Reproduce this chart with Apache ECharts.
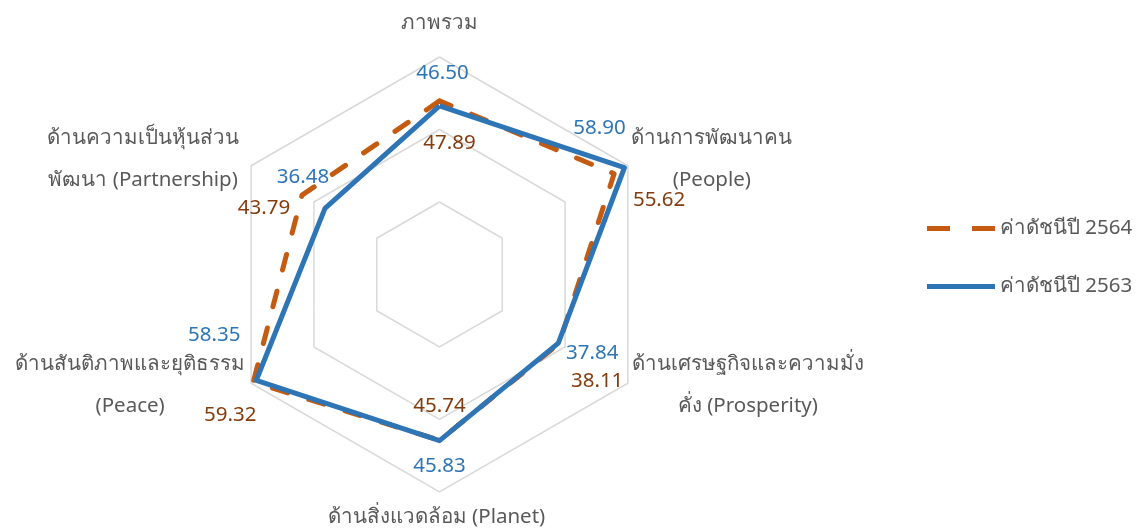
<!DOCTYPE html>
<html>
<head>
<meta charset="utf-8">
<script src="https://cdn.jsdelivr.net/npm/echarts@6/dist/echarts.min.js"></script>
<style>
html,body{margin:0;padding:0;background:#fff;}
#main{width:1145px;height:531px;}
</style>
</head>
<body>
<div id="main"></div>
<script>
// Categories, clockwise from the top
const categories = [
  'ภาพรวม',
  'ด้านการพัฒนาคน\n(People)',
  'ด้านเศรษฐกิจและความมั่ง\nคั่ง (Prosperity)',
  'ด้านสิ่งแวดล้อม (Planet)',
  'ด้านสันติภาพและยุติธรรม\n(Peace)',
  'ด้านความเป็นหุ้นส่วน\nพัฒนา (Partnership)'
];
const seriesNames = ['ค่าดัชนีปี 2564', 'ค่าดัชนีปี 2563'];
const values2564 = [47.89, 55.62, 38.11, 45.74, 59.32, 43.79];
const values2563 = [46.50, 58.90, 37.84, 45.83, 58.35, 36.48];
const axisMax = 60;

// label placement (layout only)
const nameOffsets = [[0, -34], [84, -7], [120, 2], [-3, 25], [-121, 2], [-108, -7]];
const off2564 = [[10, 42], [45, 26], [38, 38], [0, -34], [-23, 33], [-38, 13]];
const off2563 = [[3, -33], [-25, -40], [34, 10], [0, 26], [-42, -45], [-22, -31]];

const C_BLUE = '#2e75b6', C_ORANGE = '#c55a11', C_LBL_OR = '#843c0c', C_TXT = '#595959';
const FONT = '"Noto Sans", "Open Sans", sans-serif';
const CENTER = [439.5, 274.5], RADIUS = 217.5;

// radar goes counter-clockwise: reorder clockwise arrays
const ccw = arr => [arr[0], arr[5], arr[4], arr[3], arr[2], arr[1]];

function labelSeries(vals, offs, color, name) {
  return {
    type: 'scatter', coordinateSystem: 'polar', name: name,
    symbolSize: 1, itemStyle: {color: 'rgba(0,0,0,0)', opacity: 1}, silent: true,
    legendHoverLink: false, z: 10,
    label: {show: true, position: 'inside', color: color, fontSize: 20.5, fontFamily: FONT, opacity: 1,
            formatter: p => p.value[0].toFixed(2)},
    data: vals.map((v, i) => ({value: [v, i], label: {offset: offs[i]}}))
  };
}

const chart = echarts.init(document.getElementById('main'));
chart.setOption({
  animation: false,
  backgroundColor: '#fff',
  legend: {
    orient: 'vertical', left: 922, top: 213,
    itemWidth: 68, itemHeight: 5, itemGap: 37,
    textStyle: {color: C_TXT, fontSize: 20.5, fontFamily: FONT},
    data: [
      {name: seriesNames[0], icon: 'path://M0,0H23V5H0Z M45,0H68V5H45Z', itemStyle: {color: C_ORANGE}},
      {name: seriesNames[1], icon: 'path://M0,0H68V5H0Z', itemStyle: {color: C_BLUE}}
    ]
  },
  radar: {
    center: CENTER, radius: RADIUS, shape: 'polygon', splitNumber: 3,
    startAngle: 90,
    indicator: ccw(categories).map(n => ({name: n, min: 0, max: axisMax})),
    axisName: {show: false},
    axisLine: {show: false}, axisTick: {show: false}, axisLabel: {show: false},
    splitArea: {show: false},
    splitLine: {lineStyle: {color: '#d9d9d9', width: 1.5}}
  },
  polar: {center: CENTER, radius: RADIUS},
  angleAxis: {type: 'category', data: categories, boundaryGap: false, startAngle: 90, clockwise: true,
              axisLine: {show: false}, axisTick: {show: false}, axisLabel: {show: false}, splitLine: {show: false}},
  radiusAxis: {type: 'value', min: 0, max: axisMax, axisLine: {show: false}, axisTick: {show: false},
               axisLabel: {show: false}, splitLine: {show: false}},
  series: [
    {
      type: 'radar', name: seriesNames[0], symbol: 'none', z: 2,
      lineStyle: {color: C_ORANGE, width: 5, type: [16, 22], cap: 'round', join: 'round', opacity: 1},
      itemStyle: {color: C_ORANGE},
      data: [{name: seriesNames[0], value: ccw(values2564)}]
    },
    {
      type: 'radar', name: seriesNames[1], symbol: 'none', z: 3,
      lineStyle: {color: C_BLUE, width: 5, join: 'round', opacity: 1},
      itemStyle: {color: C_BLUE},
      data: [{name: seriesNames[1], value: ccw(values2563)}]
    },
    labelSeries(values2564, off2564, C_LBL_OR, 'lbl2564'),
    labelSeries(values2563, off2563, C_BLUE, 'lbl2563'),
    {
      type: 'scatter', coordinateSystem: 'polar', name: 'names',
      symbolSize: 1, itemStyle: {color: 'rgba(0,0,0,0)', opacity: 1}, silent: true, z: 10,
      label: {show: true, position: 'inside', color: C_TXT, fontSize: 20.5, lineHeight: 42, opacity: 1,
              fontFamily: FONT, align: 'center', formatter: p => categories[p.dataIndex]},
      data: categories.map((c, i) => ({value: [axisMax, i], label: {offset: nameOffsets[i]}}))
    }
  ]
});
</script>
</body>
</html>
